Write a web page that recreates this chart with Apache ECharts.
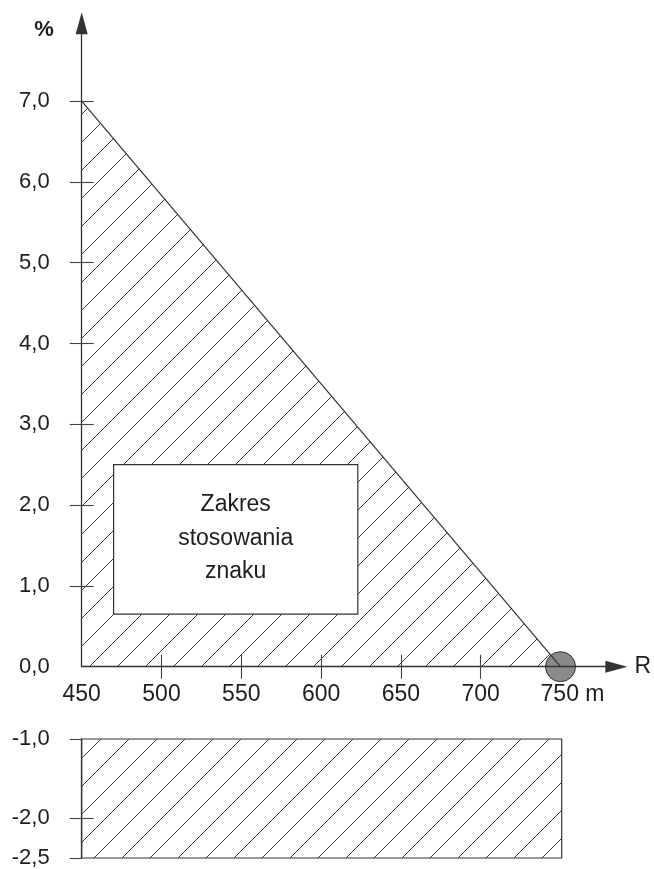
<!DOCTYPE html>
<html>
<head>
<meta charset="utf-8">
<script src="https://cdn.jsdelivr.net/npm/echarts@6/dist/echarts.min.js"></script>
<style>
  html, body { margin: 0; padding: 0; background: #fff; }
  #chart { width: 654px; height: 869px; }
</style>
</head>
<body>
<div id="chart"></div>
<script>
// ---- data ----
const xTickValues = [450, 500, 550, 600, 650, 700, 750];
const xTickMarks = [500, 550, 600, 650, 700];
const yTickValuesTop = [0, 1, 2, 3, 4, 5, 6, 7];
const yTickMarksTop = [1, 2, 3, 4, 5, 6, 7];
const yTickValuesBottom = [-2.5, -2, -1];
const wedgeR = [450, 750];
const wedgeGrade = [7.0, 0.0];
const bandR = [450, 750];
const bandGrade = [-2.5, -1.0];
const boxR = [470, 623];
const boxGrade = [0.65, 2.5];
const boxText = ['Zakres', 'stosowania', 'znaku'];
const pointR = [750];
const pointGrade = [0];

// ---- styles ----
const REG = '"Liberation Sans", Arial, Helvetica, sans-serif';
const LINE = '#333';
const TXT = '#1e1e1e';

function hatchCanvas() {
  const s = 28;
  const c = document.createElement('canvas');
  c.width = s; c.height = s;
  const g = c.getContext('2d');
  g.strokeStyle = '#3c3c3c';
  g.lineWidth = 1;
  g.beginPath();
  g.moveTo(-2, s + 2); g.lineTo(s + 2, -2);
  g.moveTo(-2, 2); g.lineTo(2, -2);
  g.moveTo(s - 2, s + 2); g.lineTo(s + 2, s - 2);
  g.stroke();
  return c;
}
const hatch = { image: hatchCanvas(), repeat: 'repeat' };

const fmt = v => v.toFixed(1).replace('.', ',');

const chart = echarts.init(document.getElementById('chart'), null, { renderer: 'canvas' });

const gridLeft = 81.7, gridRight = 36.3;
const xMin = 450, xMax = 785;
const tickStyle = { color: '#444', width: 1.1 };

const option = {
  backgroundColor: '#fff',
  animation: false,
  grid: [
    { left: gridLeft, right: gridRight, top: 20.3, bottom: 202.3 },
    { left: gridLeft, right: gridRight, top: 739, bottom: 9 }
  ],
  xAxis: [
    {
      gridIndex: 0, type: 'value', min: xMin, max: xMax, position: 'bottom', z: 5,
      axisLine: { show: true, onZero: false, lineStyle: { color: LINE, width: 1.3 },
        symbol: ['none', 'triangle'], symbolSize: [12, 22] },
      axisTick: { show: true, length: 12, customValues: xTickMarks, lineStyle: tickStyle },
      axisLabel: {
        show: true, customValues: xTickValues, margin: 16,
        fontFamily: REG, fontSize: 23, color: TXT,
        formatter: v => v === xTickValues[xTickValues.length - 1] ? '{p| }' + v + ' m' : String(v),
        rich: { p: { width: 24 } }
      },
      splitLine: { show: false },
      name: 'R', nameLocation: 'end', nameGap: 18,
      nameTextStyle: { fontFamily: REG, fontSize: 23, color: TXT, align: 'left', verticalAlign: 'middle' }
    },
    {
      gridIndex: 0, type: 'value', min: xMin, max: xMax, position: 'bottom', z: 5,
      axisLine: { show: false, onZero: false },
      axisTick: { show: true, inside: true, length: 12, customValues: xTickMarks, lineStyle: tickStyle },
      axisLabel: { show: false },
      splitLine: { show: false }
    },
    {
      gridIndex: 1, type: 'value', min: xMin, max: xMax, show: false
    }
  ],
  yAxis: [
    {
      gridIndex: 0, type: 'value', min: 0, max: 8, position: 'left', z: 5,
      axisLine: { show: true, onZero: false, lineStyle: { color: LINE, width: 1.3 },
        symbol: ['none', 'triangle'], symbolSize: [12, 22], symbolOffset: [0, -3] },
      axisTick: { show: true, length: 12, customValues: yTickMarksTop, lineStyle: tickStyle },
      axisLabel: { show: true, customValues: yTickValuesTop, margin: 32, fontFamily: REG, fontSize: 22, color: TXT, formatter: fmt },
      splitLine: { show: false },
      name: '%', nameLocation: 'end', nameGap: -10,
      nameTextStyle: { fontFamily: REG, fontSize: 22, fontWeight: 'bold', color: TXT, align: 'right', verticalAlign: 'middle', padding: [0, 28, 0, 0] }
    },
    {
      gridIndex: 0, type: 'value', min: 0, max: 8, position: 'left', z: 5,
      axisLine: { show: false, onZero: false },
      axisTick: { show: true, inside: true, length: 12, customValues: yTickMarksTop, lineStyle: tickStyle },
      axisLabel: { show: false },
      splitLine: { show: false }
    },
    {
      gridIndex: 1, type: 'value', min: -2.5, max: -1, position: 'left', z: 5,
      axisLine: { show: true, onZero: false, lineStyle: { color: LINE, width: 1.3 } },
      axisTick: { show: true, length: 12, customValues: yTickValuesBottom, lineStyle: tickStyle },
      axisLabel: { show: true, customValues: yTickValuesBottom, margin: 32, fontFamily: REG, fontSize: 22, color: TXT, formatter: fmt },
      splitLine: { show: false }
    },
    {
      gridIndex: 1, type: 'value', min: -2.5, max: -1, position: 'left', z: 5,
      axisLine: { show: false, onZero: false },
      axisTick: { show: true, inside: true, length: 12, customValues: [yTickValuesBottom[1]], lineStyle: tickStyle },
      axisLabel: { show: false },
      splitLine: { show: false }
    }
  ],
  series: [
    {
      type: 'scatter', xAxisIndex: 0, yAxisIndex: 0, z: 2,
      data: pointR.map((r, i) => [r, pointGrade[i]]),
      symbol: 'circle', symbolSize: 30,
      itemStyle: { color: '#8a8a8a', borderColor: '#333', borderWidth: 1, opacity: 1 },
      silent: true
    },
    {
      type: 'line', xAxisIndex: 0, yAxisIndex: 0, z: 3,
      data: wedgeR.map((r, i) => [r, wedgeGrade[i]]),
      showSymbol: false, symbol: 'none',
      lineStyle: { color: LINE, width: 1.2 },
      areaStyle: { color: hatch, opacity: 1, origin: 'start' },
      silent: true
    },
    {
      type: 'custom', xAxisIndex: 2, yAxisIndex: 2, z: 3,
      data: [[bandR[0], bandR[1], bandGrade[0], bandGrade[1]]],
      encode: { x: [0, 1], y: [2, 3] },
      renderItem: (params, api) => {
        const a = api.coord([api.value(0), api.value(3)]);
        const b = api.coord([api.value(1), api.value(2)]);
        return {
          type: 'rect',
          shape: { x: a[0], y: a[1], width: b[0] - a[0], height: b[1] - a[1] },
          style: { fill: hatch, stroke: LINE, lineWidth: 1.2 }
        };
      },
      silent: true
    },
    {
      type: 'custom', xAxisIndex: 0, yAxisIndex: 0, z: 4,
      data: [[boxR[0], boxR[1], boxGrade[0], boxGrade[1]]],
      encode: { x: [0, 1], y: [2, 3] },
      renderItem: (params, api) => {
        const a = api.coord([api.value(0), api.value(3)]);
        const b = api.coord([api.value(1), api.value(2)]);
        return {
          type: 'group',
          children: [
            { type: 'rect', shape: { x: a[0], y: a[1], width: b[0] - a[0], height: b[1] - a[1] },
              style: { fill: '#fff', stroke: LINE, lineWidth: 1.2 } },
            { type: 'text', x: (a[0] + b[0]) / 2, y: (a[1] + b[1]) / 2 - 1,
              style: { text: boxText.join('\n'), align: 'center', verticalAlign: 'middle',
                fontFamily: REG, fontSize: 23, lineHeight: 33.5, fill: TXT } }
          ]
        };
      },
      silent: true
    }
  ]
};
chart.setOption(option);
</script>
</body>
</html>
